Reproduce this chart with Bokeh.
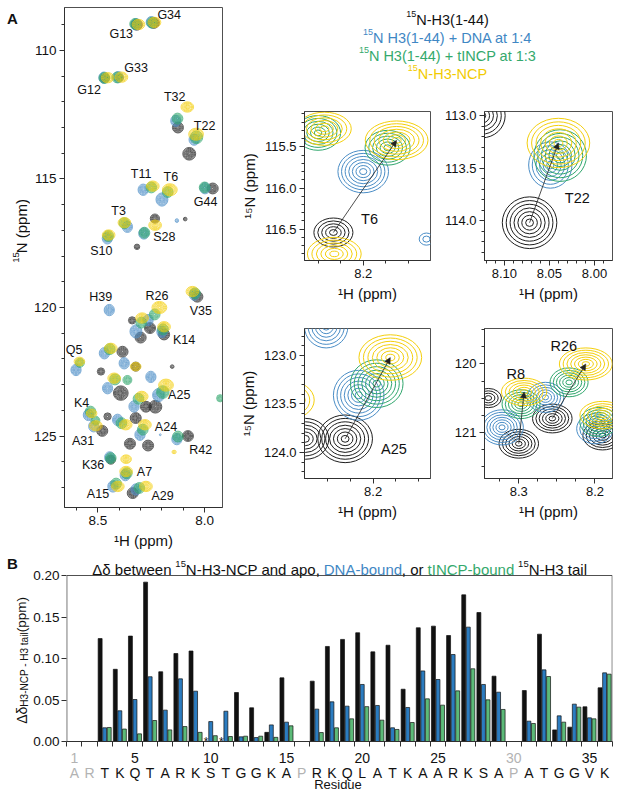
import math
from bokeh.plotting import figure
from bokeh.models import Range1d, FixedTicker, Label, Arrow, NormalHead, PrintfTickFormatter
from bokeh.layouts import row, column
from bokeh.embed import file_html
from bokeh.resources import INLINE
from bokeh.core.properties import value

FONT = "Liberation Sans"
C_APO = "#1e1e1e"
C_DNA = "#4a8dc6"
C_TIN = "#2fa66c"
C_NCP = "#f4cf0c"
T_DNA = "#3f87c4"
T_TIN = "#34a96c"
T_NCP = "#f2cb00"
BAR_BLACK = "#111111"
BAR_BLUE = "#2b7cc0"
BAR_GREEN = "#5cba78"

# ---------------- peak positions: 1H (ppm), 15N (ppm), contour levels ----------------
apo_res = ["G13", "G34", "G12", "G33", "T32", "T22", "G44", "T6", "S28", "x1", "V35", "R26", "R8", "K14",
           "x2", "x3", "x4", "x5", "x6", "x7", "A25", "x8", "x9", "x10", "A31", "R42", "x11", "x12", "A29", "K36"]
apo_h = [8.318, 8.238, 8.468, 8.398, 8.125, 8.072, 7.962, 8.233, 8.317, 8.091, 8.034, 8.256, 8.300, 8.190,
         8.340, 8.385, 8.486, 8.323, 8.152, 8.393, 8.231, 8.275, 8.455, 8.323, 8.480, 8.078, 8.350, 8.265, 8.337, 8.440]
apo_n = [109.00, 108.93, 111.08, 111.06, 113.00, 114.02, 115.37, 116.54, 117.64, 116.56, 119.58, 120.80, 121.17, 121.05,
         120.50, 121.72, 122.49, 122.30, 122.30, 123.33, 123.86, 123.86, 124.24, 124.30, 124.80, 125.00, 125.30, 125.37, 127.22, 125.92]
apo_lv = [6, 6, 5, 4, 6, 7, 6, 5, 3, 2, 6, 6, 6, 6, 4, 6, 4, 5, 2, 8, 7, 6, 4, 6, 6, 6, 6, 6, 6, 5]

dna_res = ["G13", "G34", "G12", "G33", "T32", "T22", "G44", "T11", "T6", "S28", "T3", "S10", "x1", "V35", "H39",
           "R26", "R8", "K14", "Q5", "x3", "x14", "x15", "x16", "A25", "x17", "K4", "x10", "A24", "R42", "x18",
           "K36", "A7", "A15", "A29", "A31"]
dna_h = [8.322, 8.250, 8.472, 8.405, 8.135, 8.049, 7.998, 8.288, 8.200, 8.285, 8.362, 8.456, 8.130, 8.048, 8.447,
         8.265, 8.322, 8.200, 8.603, 8.470, 8.377, 8.252, 8.455, 8.216, 8.331, 8.545, 8.408, 8.303, 8.130, 8.208,
         8.445, 8.372, 8.430, 8.322, 8.520]
dna_n = [108.98, 108.90, 111.06, 111.04, 112.74, 113.47, 115.36, 115.42, 115.80, 117.12, 116.86, 117.31, 116.62, 119.50, 120.10,
         120.49, 120.93, 120.95, 122.43, 121.78, 122.17, 122.70, 123.14, 123.41, 123.85, 124.18, 124.37, 124.95, 125.12, 124.95,
         125.83, 126.52, 126.96, 127.08, 124.62]
dna_lv = [6, 6, 6, 6, 6, 6, 6, 6, 7, 6, 6, 6, 2, 6, 6, 6, 7, 6, 6, 6, 6, 6, 6, 7, 6, 6, 6, 6, 6, 1, 6, 6, 6, 6, 6]

tin_res = ["G13", "G34", "G12", "G33", "T32", "T22", "G44", "T11", "T6", "S28", "T3", "S10", "V35", "R26", "R8",
           "K14", "Q5", "x3", "x16", "x19", "A25", "x17", "x20", "K4", "x10", "A24", "R42", "K36", "A7", "A15", "A29", "A31"]
tin_h = [8.326, 8.246, 8.470, 8.410, 8.127, 8.038, 8.000, 8.250, 8.173, 8.282, 8.376, 8.452, 8.045, 8.234, 8.297,
         8.195, 8.585, 8.445, 8.420, 8.362, 8.196, 8.310, 7.927, 8.535, 8.390, 8.290, 8.125, 8.440, 8.365, 8.415, 8.306, 8.512]
tin_n = [108.97, 108.92, 111.07, 111.05, 112.65, 113.38, 115.33, 115.33, 115.51, 117.09, 116.72, 117.22, 119.45, 120.27, 120.59,
         120.85, 122.15, 121.62, 122.80, 122.82, 123.29, 123.55, 123.53, 124.05, 124.50, 124.75, 125.02, 125.86, 126.45, 126.85, 127.02, 124.40]
tin_lv = [6, 6, 6, 6, 6, 7, 6, 6, 6, 6, 6, 6, 6, 6, 6, 6, 5, 6, 6, 5, 7, 6, 4, 6, 6, 6, 6, 6, 6, 6, 6, 5]

ncp_res = ["G13", "G34", "G12", "G33", "T32", "T22", "T11", "T6", "S28", "T3", "S10", "V35", "R26", "R8", "K14",
           "Q5", "x3", "x5", "x16", "A25", "x17", "K4", "x10", "A24", "A31", "x21", "K36", "A7", "A15", "A29"]
ncp_h = [8.310, 8.235, 8.455, 8.390, 8.081, 8.040, 8.243, 8.163, 8.232, 8.376, 8.450, 8.057, 8.212, 8.293, 8.190,
         8.587, 8.440, 8.323, 8.424, 8.181, 8.295, 8.530, 8.370, 8.280, 8.510, 8.143, 8.368, 8.368, 8.407, 8.275]
ncp_n = [108.99, 108.91, 111.06, 111.04, 112.20, 113.26, 115.28, 115.42, 116.80, 116.70, 117.18, 119.38, 120.00, 120.41, 120.75,
         122.10, 121.59, 122.30, 122.75, 123.02, 123.46, 124.12, 124.56, 124.56, 124.60, 125.62, 125.90, 126.38, 126.96, 126.96]
ncp_lv = [6, 6, 6, 6, 6, 7, 6, 7, 6, 6, 6, 6, 7, 6, 6, 5, 6, 5, 6, 7, 6, 5, 6, 6, 6, 2, 5, 6, 6, 6]

# peak assignment labels in the full spectrum (text, 1H, 15N)
lab_txt = ["G34", "G13", "G33", "G12", "T32", "T22", "T11", "T6", "G44", "T3", "S28", "S10", "H39", "R26",
           "V35", "K14", "Q5", "A25", "K4", "A24", "A31", "R42", "K36", "A7", "A15", "A29"]
lab_h = [8.166, 8.391, 8.321, 8.542, 8.140, 8.000, 8.298, 8.158, 7.995, 8.403, 8.189, 8.484, 8.487, 8.223,
         8.018, 8.096, 8.612, 8.119, 8.577, 8.181, 8.570, 8.018, 8.523, 8.282, 8.500, 8.197]
lab_n = [108.64, 109.35, 110.67, 111.53, 111.81, 112.94, 114.81, 114.92, 115.89, 116.24, 117.27, 117.79, 119.60, 119.55,
         120.12, 121.26, 121.65, 123.40, 123.72, 124.65, 125.21, 125.53, 126.12, 126.38, 127.24, 127.32]

# zoomed panel labels
pan_txt = ["T6", "T22", "A25", "R8", "R26"]
pan_h = [8.193, 8.019, 8.177, 8.304, 8.241]
pan_n = [116.37, 113.78, 123.96, 120.15, 119.73]

# ---------------- chemical shift perturbations (panel B) ----------------
seq = "ARTKQTARKSTGGKAPRKQLATKAARKSAPATGGVK"
missing = [1, 2, 16, 30]
num_ticks = [1, 5, 10, 15, 20, 25, 30, 35]
apo_dd = [None, None, 0.124, 0.087, 0.127, 0.192, 0.084, 0.106, 0.109, None, None, 0.059, 0.0406, 0.011, 0.0767, None,
          0.0727, 0.1145, 0.123, 0.131, 0.108, 0.116, 0.063, 0.137, 0.139, 0.1277, 0.1767, 0.1554, 0.0787, None,
          0.0614, 0.1293, 0.014, 0.0173, 0.0418, 0.0647]
dna_dd = [None, None, 0.0165, 0.037, 0.0506, 0.078, 0.0378, 0.0755, 0.0606, 0.024, 0.0365, 0.0056, 0.0048, 0.020, 0.0233, None,
          0.039, 0.0478, 0.0426, 0.0687, 0.0434, 0.0165, 0.041, 0.085, 0.0747, 0.1048, 0.1378, 0.0687, 0.0594, None,
          0.0245, 0.0863, 0.0309, 0.045, 0.0285, 0.0827]
tin_dd = [None, None, 0.0169, 0.015, 0.0092, 0.0253, 0.014, 0.018, 0.011, 0.007, 0.006, 0.0064, 0.0064, 0.005, 0.0189, None,
          0.0108, 0.0165, 0.0273, 0.042, 0.0257, 0.0145, 0.0229, 0.0514, 0.0438, 0.061, 0.0876, 0.0502, 0.0386, None,
          0.0217, 0.0783, 0.0233, 0.0414, 0.0273, 0.0811]
star_res = [10, 11]

# ---------------- helpers ----------------
W = {' ': 278, '(': 333, ')': 333, '+': 584, ',': 278, '-': 333, '.': 278, ':': 278,
     'A': 667, 'B': 667, 'C': 722, 'D': 722, 'E': 667, 'G': 778, 'H': 722, 'I': 278, 'K': 667, 'L': 556,
     'N': 722, 'P': 667, 'Q': 778, 'R': 722, 'S': 667, 'T': 611, 'V': 667,
     'a': 556, 'b': 556, 'c': 500, 'd': 556, 'e': 556, 'f': 278, 'i': 222, 'l': 222, 'm': 833, 'n': 556,
     'o': 556, 'p': 556, 'r': 333, 's': 500, 't': 278, 'u': 556, 'w': 722, '\u0394': 668, '\u03b4': 556}


def tw(s, size):
    return sum(W.get(c, 556) for c in s) * size / 1000.0


def lab(p, x, y, text, size, color="#111111", align="center", baseline="middle", angle=0.0, bold=False):
    p.add_layout(Label(x=x, y=y, text=text, text_font=FONT, text_font_size=f"{size}px", text_color=color,
                       text_align=align, text_baseline=baseline, angle=angle,
                       text_font_style="bold" if bold else "normal"))


def place_runs(p, runs, center, base, fx, fy, vertical=False):
    total = sum(tw(t, sz) for t, sz, col, dy in runs)
    pos = center + total / 2 if vertical else center - total / 2
    for t, sz, col, dy in runs:
        if vertical:
            lab(p, fx(base + dy), fy(pos), t, sz, col, "left", "alphabetic", math.pi / 2)
            pos -= tw(t, sz)
        else:
            lab(p, fx(pos), fy(base - dy), t, sz, col, "left", "alphabetic")
            pos += tw(t, sz)


def text_fig(width, height, **kw):
    return figure(width=width, height=height, x_range=kw.pop("x_range", Range1d(0, width)),
                  y_range=Range1d(height, 0), x_axis_type=None, y_axis_type=None,
                  outline_line_color=None, output_backend="svg", toolbar_location=None,
                  min_border_left=kw.get("bl", 0), min_border_right=kw.get("br", 0),
                  min_border_top=0, min_border_bottom=0)


def style(p, fs="13px"):
    p.grid.visible = False
    p.outline_line_color = "#505050"
    p.outline_line_width = 1
    for ax in p.axis:
        ax.axis_line_color = "#303030"
        ax.major_tick_line_color = "#303030"
        ax.minor_tick_line_color = "#303030"
        ax.major_tick_in = 0
        ax.major_tick_out = 5
        ax.minor_tick_in = 0
        ax.minor_tick_out = 3
        ax.major_label_text_font = FONT
        ax.major_label_text_font_size = fs
        ax.major_label_text_color = "#111111"
        ax.axis_label_text_font = FONT
        ax.axis_label_text_font_size = "15px"
        ax.axis_label_text_font_style = "normal"
        ax.axis_label_text_color = "#111111"
        ax.major_label_standoff = 3
        ax.axis_label_standoff = 4


def spec_fig(width, height, xr, yr, bl, br, bt, bb):
    p = figure(width=width, height=height, x_range=Range1d(*xr), y_range=Range1d(*yr),
               output_backend="svg", toolbar_location=None,
               min_border_left=bl, min_border_right=br, min_border_top=bt, min_border_bottom=bb)
    style(p)
    return p


def draw_series(p, hs, ns, lvs, color, w, h, lw):
    xs, ys, ws, hh = [], [], [], []
    for x, y, lv in zip(hs, ns, lvs):
        for k in range(lv):
            s = 0.16 * (k + 1)
            xs.append(x)
            ys.append(y)
            ws.append(w * s)
            hh.append(h * s)
    p.ellipse(x=xs, y=ys, width=ws, height=hh, fill_color=None, line_color=color, line_width=lw)


def draw_all(p, lw):
    draw_series(p, apo_h, apo_n, apo_lv, C_APO, 0.054, 0.44, lw)
    draw_series(p, dna_h, dna_n, dna_lv, C_DNA, 0.050, 0.46, lw)
    draw_series(p, tin_h, tin_n, tin_lv, C_TIN, 0.052, 0.44, lw)
    draw_series(p, ncp_h, ncp_n, ncp_lv, C_NCP, 0.062, 0.42, lw)


def add_arrow(p, res):
    i = apo_res.index(res)
    j = ncp_res.index(res)
    p.add_layout(Arrow(end=NormalHead(size=6, fill_color="#222222", line_color="#222222", line_width=0.5),
                       x_start=apo_h[i], y_start=apo_n[i], x_end=ncp_h[j], y_end=ncp_n[j],
                       line_color="#222222", line_width=0.8))


def ticks(p, xt, xmin, yt, ymin, xf, yf):
    p.xaxis.ticker = FixedTicker(ticks=xt, minor_ticks=xmin)
    p.yaxis.ticker = FixedTicker(ticks=yt, minor_ticks=ymin)
    p.xaxis.formatter = PrintfTickFormatter(format=xf)
    p.yaxis.formatter = PrintfTickFormatter(format=yf)


def panel_labels(p):
    # only the assignment labels that fall inside this panel's window
    x0, x1 = sorted((p.x_range.start, p.x_range.end))
    y0, y1 = sorted((p.y_range.start, p.y_range.end))
    keep = [i for i in range(len(pan_txt)) if x0 < pan_h[i] < x1 and y0 < pan_n[i] < y1]
    p.text(x=[pan_h[i] for i in keep], y=[pan_n[i] for i in keep], text=[pan_txt[i] for i in keep],
           text_font=value(FONT), text_font_size="14.5px", text_align="center", text_baseline="middle",
           text_color="#111111")


TOP_H = 553

# ---------------- panel A: label strip + full spectrum ----------------
afig = text_fig(30, TOP_H)
lab(afig, 12, 12, "A", 15, bold=True)
place_runs(afig, [("15", 9.5, "#111111", -5.5), ("N (ppm)", 15, "#111111", 0)], 250, 21,
           lambda px: px, lambda py: py, vertical=True)

main = spec_fig(202, TOP_H, (8.657, 7.916), (127.78, 108.33), 33, 10, 7, 46)
ticks(main, [8.0, 8.5], [8.6, 8.4, 8.3, 8.2, 8.1], [110, 115, 120, 125],
      [109 + i for i in range(19)], "%.1f", "%.0f")
main.yaxis.major_label_text_font_size = "13.5px"
main.xaxis.major_label_text_font_size = "13.5px"
main.xaxis.axis_label = "\u00b9H (ppm)"
draw_all(main, 0.7)
main.text(x=lab_h, y=lab_n, text=lab_txt, text_font=value(FONT), text_font_size="12.5px",
          text_align="center", text_baseline="middle", text_color="#111111")

# ---------------- legend ----------------
leg = text_fig(384, 98)
leg_lines = [("N-H3(1-44)", "#111111", 19), ("N H3(1-44) + DNA at 1:4", T_DNA, 37),
             ("N H3(1-44) + tINCP at 1:3", T_TIN, 55), ("N-H3-NCP", T_NCP, 73)]
for txt, col, base in leg_lines:
    place_runs(leg, [("15", 9, col, 5.5), (txt, 14.5, col, 0)], 447, base, lambda px: px - 232, lambda py: py)

# ---------------- zoomed panels ----------------
t6 = spec_fig(208, 217, (8.265, 8.1255), (116.88, 115.07), 72, 10, 13, 55)
ticks(t6, [8.2], [8.25, 8.225, 8.175, 8.15], [115.5, 116.0, 116.5],
      [115.1 + 0.1 * i for i in range(18)], "%.1f", "%.1f")
t6.xaxis.axis_label = "\u00b9H (ppm)"
t6.yaxis.axis_label = "\u00b9\u2075N (ppm)"

t22 = spec_fig(176, 217, (8.122, 7.980), (114.38, 112.96), 44, 4, 13, 55)
ticks(t22, [8.10, 8.05, 8.00], [8.12, 8.11, 8.09, 8.08, 8.07, 8.06, 8.04, 8.03, 8.02, 8.01, 7.99],
      [113.0, 113.5, 114.0], [113.1, 113.2, 113.3, 113.4, 113.6, 113.7, 113.8, 113.9, 114.1, 114.2, 114.3],
      "%.2f", "%.1f")
t22.xaxis.axis_label = "\u00b9H (ppm)"

a25 = spec_fig(208, 217, (8.276, 8.1365), (124.27, 122.72), 72, 10, 13, 54)
ticks(a25, [8.2], [8.25, 8.225, 8.175, 8.15], [123.0, 123.5, 124.0],
      [122.8 + 0.1 * i for i in range(15)], "%.1f", "%.1f")
a25.xaxis.axis_label = "\u00b9H (ppm)"
a25.yaxis.axis_label = "\u00b9\u2075N (ppm)"

r26 = spec_fig(176, 217, (8.345, 8.177), (121.68, 119.48), 44, 4, 13, 54)
ticks(r26, [8.3, 8.2], [8.325, 8.275, 8.25, 8.225], [120, 121],
      [119.5, 119.75, 120.25, 120.5, 120.75, 121.25, 121.5], "%.1f", "%.0f")
r26.xaxis.axis_label = "\u00b9H (ppm)"

for p in (t6, t22, a25, r26):
    draw_all(p, 1.0)
    panel_labels(p)
add_arrow(t6, "T6")
add_arrow(t22, "T22")
add_arrow(a25, "A25")
add_arrow(r26, "R8")
add_arrow(r26, "R26")

# ---------------- panel B: label strip (letter + y-axis title) ----------------
B_H = 196
yfig = text_fig(30, B_H)
lab(yfig, 12, 10, "B", 15, bold=True)
ylab_runs = [("\u0394\u03b4", 14, "#111111", 0), ("H3-NCP - H3 tail", 10, "#111111", 2.5),
             (" (ppm)", 13.5, "#111111", 0)]
place_runs(yfig, ylab_runs, 105, 21, lambda px: px, lambda py: py, vertical=True)

# ---------------- panel B: bar chart (title sits inside the top of its frame) ----------------
XLO, XHI = 0.48, 36.52
YTOP = 0.2 + 22 * 0.2 / 166.0
bar = figure(width=586, height=B_H, x_range=Range1d(XLO, XHI), y_range=Range1d(0, YTOP),
             output_backend="svg", toolbar_location=None,
             min_border_left=34, min_border_right=4, min_border_top=0, min_border_bottom=8)
style(bar, "13.5px")
bar.outline_line_color = None
bar.yaxis.axis_line_color = None
bar.yaxis.major_label_standoff = 2
bar.yaxis.ticker = FixedTicker(ticks=[0.0, 0.05, 0.10, 0.15, 0.20])
bar.yaxis.formatter = PrintfTickFormatter(format="%.2f")
bar.xaxis.ticker = FixedTicker(ticks=[], minor_ticks=[i + 0.5 for i in range(37)])
bar.xaxis.minor_tick_out = 5
# box around the data area (left axis line, top and right edges)
bar.segment(x0=[0.5, 0.5, 36.5], y0=[0.0, 0.2, 0.0], x1=[0.5, 36.5, 36.5], y1=[0.2, 0.2, 0.2],
            line_color=["#303030", "#505050", "#505050"], line_width=1)

residues = list(range(1, len(seq) + 1))
for vals, off, col in ((apo_dd, -0.3, BAR_BLACK), (dna_dd, 0.0, BAR_BLUE), (tin_dd, 0.3, BAR_GREEN)):
    xs = [r + off for r, v in zip(residues, vals) if v is not None]
    ts = [v for v in vals if v is not None]
    bar.vbar(x=xs, top=ts, bottom=0, width=0.26, fill_color=col, line_color="#111111", line_width=0.7)
bar.text(x=[r - 0.3 for r in star_res], y=[0.0] * len(star_res), text=["*"] * len(star_res),
         text_font=value(FONT), text_font_size="12px", text_align="center", text_baseline="alphabetic",
         text_color="#111111")

bx = lambda px: XLO + (px - 64) * (XHI - XLO) / 548.0
by = lambda py: (741 - py) * 0.2 / 166.0
title_runs = [("\u0394\u03b4 between ", 15, "#111111", 0), ("15", 9.5, "#111111", 5.5),
              ("N-H3-NCP and apo, ", 15, "#111111", 0), ("DNA-bound", 15, T_DNA, 0),
              (", or ", 15, "#111111", 0), ("tINCP-bound", 15, T_TIN, 0), (" ", 15, "#111111", 0),
              ("15", 9.5, "#111111", 5.5), ("N-H3 tail", 15, "#111111", 0)]
place_runs(bar, title_runs, 338, 569, bx, by)

# residue numbers / letters strip sharing the bar chart's x range
nfig = text_fig(586, 46, x_range=bar.x_range, bl=34, br=4)
for r in num_ticks:
    lab(nfig, r, 8, str(r), 14, "#b3b3b3" if r in missing else "#111111")
for r, aa in zip(residues, seq):
    lab(nfig, r, 23, aa, 14, "#b3b3b3" if r in missing else "#111111")
lab(nfig, 18.4, 35, "Residue", 13)

layout = column(row(afig, main, column(leg, row(t6, t22), row(a25, r26))),
                row(yfig, column(bar, nfig)))
open("out.html", "w").write(file_html(layout, INLINE))
